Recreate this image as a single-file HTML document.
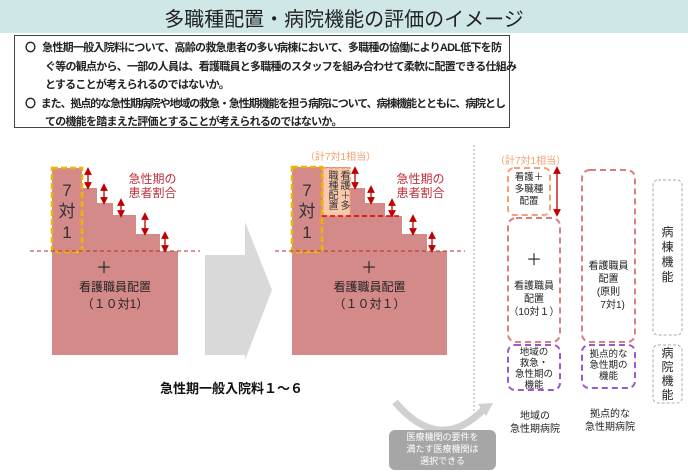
<!DOCTYPE html>
<html><head><meta charset="utf-8"><style>
*{margin:0;padding:0;box-sizing:border-box}
body{width:688px;height:476px;background:#fff;position:relative;overflow:hidden;font-family:"Liberation Sans","Noto Sans CJK JP",sans-serif;color:#222}
.a{position:absolute}
.t{position:absolute;text-align:center;white-space:nowrap}
.box div{white-space:nowrap}
</style></head><body>
<div class="a" style="left:0;top:0;width:688px;height:33px;background:#cfe7e7"></div>
<div class="t" style="left:0;top:3px;width:688px;font-size:20px;color:#222">多職種配置・病院機能の評価のイメージ</div>
<div class="a box" style="left:14px;top:35px;width:496px;height:93px;border:1px solid #444;font-size:11px;font-weight:bold;line-height:18.5px;padding:3px 0 0 10px;letter-spacing:-0.75px">
<div>〇&nbsp;&nbsp;&nbsp;急性期一般入院料について、高齢の救急患者の多い病棟において、多職種の協働によりADL低下を防</div>
<div style="padding-left:20px">ぐ等の観点から、一部の人員は、看護職員と多職種のスタッフを組み合わせて柔軟に配置できる仕組み</div>
<div style="padding-left:20px">とすることが考えられるのではないか。</div>
<div style="letter-spacing:-1.1px">〇&nbsp;&nbsp;&nbsp;また、拠点的な急性期病院や地域の救急・急性期機能を担う病院について、病棟機能とともに、病院とし</div>
<div style="padding-left:20px">ての機能を踏まえた評価とすることが考えられるのではないか。</div>
</div>
<svg class="a" style="left:0;top:0" width="688" height="476">
<defs><marker id="ah" markerWidth="6" markerHeight="6" refX="3" refY="3" orient="auto-start-reverse"><path d="M0,0L6,3L0,6z" fill="#c00000"/></marker></defs>
<g fill="#d48a89">
<rect x="52" y="168" width="30" height="187"/>
<path d="M82,188H97V203H113V215H136V234H160V251H178V355H82Z"/>
<rect x="292" y="167" width="30" height="188"/>
<path d="M322,167H350V188H365V203H385V216H402V234H427V251H447V355H322Z"/>
</g>
<rect x="323" y="168" width="27" height="48" fill="#f8c9ac" stroke="#f4a070" stroke-dasharray="4,2" stroke-width="1.5"/>
<line x1="322" y1="216" x2="402" y2="216" stroke="#e00000" stroke-width="1.5" stroke-dasharray="5,3"/>
<rect x="52" y="168" width="30" height="84" fill="none" stroke="#f0b400" stroke-width="2.5" stroke-dasharray="6,3"/>
<rect x="292" y="167" width="30" height="85" fill="none" stroke="#f0b400" stroke-width="2.5" stroke-dasharray="6,3"/>
<line x1="30" y1="251" x2="200" y2="251" stroke="#b03030" stroke-dasharray="4,3"/>
<line x1="275" y1="251" x2="465" y2="251" stroke="#b03030" stroke-dasharray="4,3"/>
<g stroke="#c00000" stroke-width="1.3" marker-start="url(#ah)" marker-end="url(#ah)">
<line x1="88" y1="171" x2="88" y2="186"/><line x1="104" y1="187" x2="104" y2="201"/><line x1="121" y1="202" x2="121" y2="214"/><line x1="145" y1="216" x2="145" y2="232"/><line x1="165" y1="235" x2="165" y2="249"/>
<line x1="355" y1="170" x2="355" y2="186"/><line x1="371" y1="189" x2="371" y2="201"/><line x1="392" y1="202" x2="392" y2="214"/><line x1="413" y1="218" x2="413" y2="232"/><line x1="432" y1="235" x2="432" y2="249"/>
<line x1="557" y1="170" x2="557" y2="213"/>
</g>
<path d="M205,255H245V222L272,290L245,360V355H205Z" fill="#d9d9d9"/>
<line x1="474" y1="145" x2="474" y2="415" stroke="#aaa" stroke-dasharray="2,2"/>
<g fill="none" stroke-width="2" stroke-dasharray="6,4">
<rect x="508" y="168" width="42" height="47" rx="6" stroke="#f4a070"/>
<rect x="508" y="218" width="52" height="124" rx="8" stroke="#d88080"/>
<rect x="582" y="170" width="53" height="172" rx="8" stroke="#d88080"/>
<rect x="508" y="345" width="52" height="45" rx="7" stroke="#9b59d0"/>
<rect x="582" y="345" width="53" height="43" rx="7" stroke="#9b59d0"/>
</g>
<g fill="none" stroke="#aaa" stroke-width="1" stroke-dasharray="3,2">
<rect x="653" y="180" width="29" height="155" rx="5"/>
<rect x="653" y="345" width="29" height="58" rx="5"/>
</g>
<path d="M395,402 Q440,455 485,408" fill="none" stroke="#d0d0d0" stroke-width="7"/>
<path d="M478,404L493,403L486,416Z" fill="#d0d0d0"/>
<rect x="389" y="430" width="107" height="40" rx="6" fill="#a6a6a6"/>
</svg>
<div class="t" style="left:52px;top:180px;width:30px;font-size:17px;line-height:21px;color:#333">7<br>対<br>1</div>
<div class="t" style="left:292px;top:180px;width:30px;font-size:17px;line-height:21px;color:#333">7<br>対<br>1</div>
<div class="a" style="left:324px;top:170px;width:25px;height:46px;font-size:10px;line-height:12px;writing-mode:vertical-rl;white-space:normal;color:#333">看護＋多職種配置</div>
<div class="t" style="left:92px;top:254px;width:24px;font-size:16px">＋</div>
<div class="t" style="left:52px;top:279px;width:126px;font-size:12px;line-height:17px">看護職員配置<br>（１０対1）</div>
<div class="t" style="left:357px;top:254px;width:24px;font-size:16px">＋</div>
<div class="t" style="left:292px;top:279px;width:155px;font-size:12px;line-height:17px">看護職員配置<br>（１０対１）</div>
<div class="t" style="left:125px;top:172px;width:55px;font-size:12px;line-height:14px;color:#c0303a">急性期の<br>患者割合</div>
<div class="t" style="left:393px;top:172px;width:55px;font-size:12px;line-height:14px;color:#c0303a">急性期の<br>患者割合</div>
<div class="t" style="left:305px;top:148px;width:70px;font-size:10px;color:#f4a070">（計7対1相当）</div>
<div class="t" style="left:495px;top:152px;width:70px;font-size:10px;color:#f4a070">（計7対1相当）</div>
<div class="t" style="left:508px;top:172px;width:42px;font-size:9.5px;line-height:12px">看護＋<br>多職種<br>配置</div>
<div class="t" style="left:508px;top:246px;width:52px;font-size:16px">＋</div>
<div class="t" style="left:508px;top:280px;width:52px;font-size:10px;line-height:13px">看護職員<br>配置<br>（10対１）</div>
<div class="t" style="left:582px;top:260px;width:53px;font-size:10px;line-height:13px">看護職員<br>配置<br>(原則<br>&nbsp;&nbsp;&nbsp;7対1)</div>
<div class="t" style="left:508px;top:347px;width:52px;font-size:9.5px;line-height:11px">地域の<br>救急・<br>急性期の<br>機能</div>
<div class="t" style="left:582px;top:349px;width:53px;font-size:9.5px;line-height:11px">拠点的な<br>急性期の<br>機能</div>
<div class="t" style="left:653px;top:225px;width:29px;font-size:12px;line-height:15px">病<br>棟<br>機<br>能</div>
<div class="t" style="left:653px;top:346px;width:29px;font-size:12px;line-height:14px">病<br>院<br>機<br>能</div>
<div class="t" style="left:505px;top:410px;width:60px;font-size:10px;line-height:13px">地域の<br>急性期病院</div>
<div class="t" style="left:580px;top:408px;width:60px;font-size:10px;line-height:13px">拠点的な<br>急性期病院</div>
<div class="t" style="left:160px;top:378px;font-size:13px;font-weight:bold;color:#111">急性期一般入院料１～６</div>
<div class="t" style="left:389px;top:431px;width:107px;font-size:9px;line-height:12px;color:#fff">医療機関の要件を<br>満たす医療機関は<br>選択できる</div>
</body></html>
